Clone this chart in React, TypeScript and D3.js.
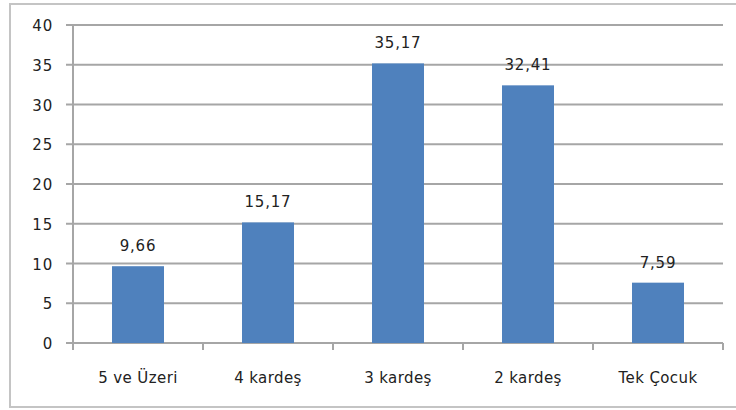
import { useEffect, useRef } from "react";
import * as d3 from "d3";

const categories = ["5 ve Üzeri", "4 kardeş", "3 kardeş", "2 kardeş", "Tek Çocuk"];
const values = [9.66, 15.17, 35.17, 32.41, 7.59];
const yTicks = [0, 5, 10, 15, 20, 25, 30, 35, 40];

export default function App() {
  const svgRef = useRef<SVGSVGElement>(null);

  useEffect(() => {
    if (!svgRef.current) return;
    const svg = d3.select(svgRef.current);
    svg.selectAll("*").remove();

    const width = 736;
    const plot = { left: 73, right: 723, top: 25, bottom: 343 };
    const font = "DejaVu Sans, Verdana, sans-serif";

    // outer chart border
    svg
      .append("rect")
      .attr("x", 10)
      .attr("y", 4)
      .attr("width", width + 10)
      .attr("height", 403)
      .attr("fill", "#fff")
      .attr("stroke", "#c4c4c4")
      .attr("stroke-width", 2);

    const x = d3
      .scaleBand()
      .domain(categories)
      .range([plot.left, plot.right])
      .paddingInner(0.6)
      .paddingOuter(0.3);

    const y = d3.scaleLinear().domain([0, 40]).range([plot.bottom, plot.top]);

    // gridlines
    svg
      .append("g")
      .selectAll("line")
      .data(yTicks)
      .enter()
      .append("line")
      .attr("x1", plot.left - 7)
      .attr("x2", plot.right)
      .attr("y1", (d) => y(d))
      .attr("y2", (d) => y(d))
      .attr("stroke", "#a6a6a6")
      .attr("stroke-width", 2);

    // y axis line
    svg
      .append("line")
      .attr("x1", plot.left)
      .attr("x2", plot.left)
      .attr("y1", plot.top)
      .attr("y2", plot.bottom + 6)
      .attr("stroke", "#a6a6a6")
      .attr("stroke-width", 2);

    // y tick labels
    svg
      .append("g")
      .selectAll("text")
      .data(yTicks)
      .enter()
      .append("text")
      .attr("x", 53)
      .attr("y", (d) => y(d) + 6)
      .attr("text-anchor", "end")
      .attr("font-family", font)
      .attr("font-size", 15)
      .attr("letter-spacing", 0.8)
      .attr("fill", "#222")
      .text((d) => d);

    // category ticks
    const step = (plot.right - plot.left) / categories.length;
    svg
      .append("g")
      .selectAll("line")
      .data(d3.range(categories.length + 1))
      .enter()
      .append("line")
      .attr("x1", (i) => plot.left + i * step)
      .attr("x2", (i) => plot.left + i * step)
      .attr("y1", plot.bottom)
      .attr("y2", plot.bottom + 7)
      .attr("stroke", "#a6a6a6")
      .attr("stroke-width", 2);

    // bars
    svg
      .append("g")
      .selectAll("rect")
      .data(values)
      .enter()
      .append("rect")
      .attr("x", (_, i) => x(categories[i])!)
      .attr("y", (d) => y(d))
      .attr("width", x.bandwidth())
      .attr("height", (d) => plot.bottom - y(d))
      .attr("fill", "#4f81bd");

    // value labels
    svg
      .append("g")
      .selectAll("text")
      .data(values)
      .enter()
      .append("text")
      .attr("x", (_, i) => x(categories[i])! + x.bandwidth() / 2)
      .attr("y", (d) => y(d) - 15)
      .attr("text-anchor", "middle")
      .attr("font-family", font)
      .attr("font-size", 15)
      .attr("letter-spacing", 0.8)
      .attr("fill", "#222")
      .text((d) => d.toFixed(2).replace(".", ","));

    // category labels
    svg
      .append("g")
      .selectAll("text")
      .data(categories)
      .enter()
      .append("text")
      .attr("x", (d) => x(d)! + x.bandwidth() / 2)
      .attr("y", 383)
      .attr("text-anchor", "middle")
      .attr("font-family", font)
      .attr("font-size", 15)
      .attr("letter-spacing", 0.4)
      .attr("fill", "#222")
      .text((d) => d);
  }, []);

  return (
    <svg
      ref={svgRef}
      width={736}
      height={410}
      style={{ position: "absolute", left: 0, top: 0, background: "#fff" }}
    ></svg>
  );
}
